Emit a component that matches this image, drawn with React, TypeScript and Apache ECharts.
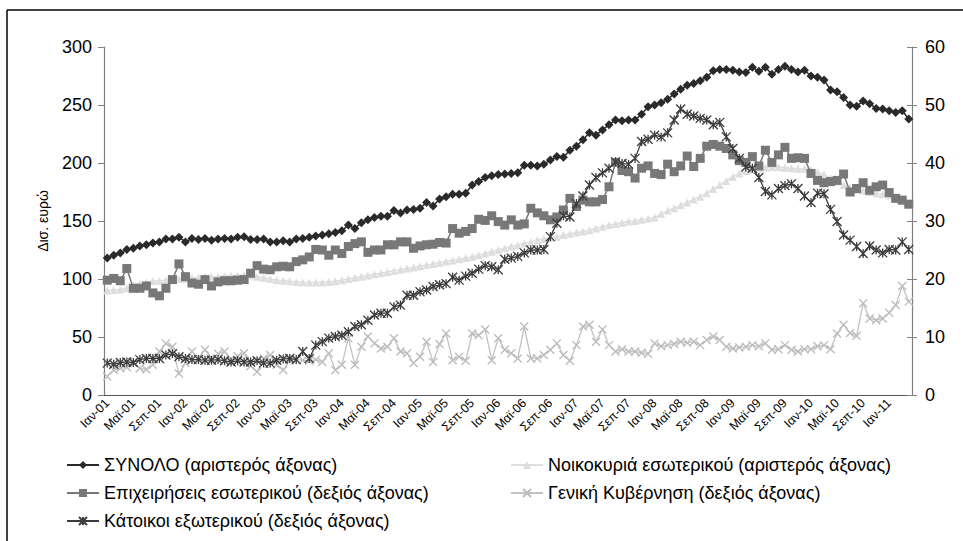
import React, { useEffect, useRef } from "react";
import * as echarts from "echarts";

const years = ["01", "02", "03", "04", "05", "06", "07", "08", "09", "10", "11"];
const monthNames = ["Ιαν", "Φεβ", "Μαρ", "Απρ", "Μαϊ", "Ιουν", "Ιουλ", "Αυγ", "Σεπ", "Οκτ", "Νοε", "Δεκ"];
const monthCount = 124; // Ιαν-01 ... Απρ-11

const seriesNames = [
  "ΣΥΝΟΛΟ (αριστερός άξονας)",
  "Νοικοκυριά εσωτερικού (αριστερός άξονας)",
  "Επιχειρήσεις εσωτερικού (δεξιός άξονας)",
  "Γενική Κυβέρνηση (δεξιός άξονας)",
  "Κάτοικοι εξωτερικού (δεξιός άξονας)",
];

// left axis, δισ. ευρώ
const total = [
  118, 120.5, 122.5, 125.5, 126.5, 128.5, 129.5, 131, 132, 134.5, 134.5, 136,
  132, 135, 134, 135, 133.5, 134.5, 135, 134.5, 136, 136.5, 134, 134,
  134.5, 132, 132, 133, 132, 134.5, 135, 136, 137, 138, 139, 140,
  141.5, 146.5, 143.5, 148.5, 151, 153, 154, 154, 159, 157, 159.5, 160,
  161, 166, 163, 169, 171, 173, 173, 174, 181, 184, 187.5, 189,
  190, 190.5, 191, 191.5, 198, 198, 197.5, 199, 202.5, 205.5, 205, 211,
  214.5, 220, 226, 224, 228.5, 233, 237, 236.5, 237, 237, 242, 248.5,
  250, 252, 255, 259.5, 263.5, 267, 268.5, 271, 274, 279.5, 280.5, 280.5,
  280, 278.5, 278, 282.5, 279, 282.5, 276.5, 280.5, 283.5, 280.5, 278.5, 280,
  275, 274, 271.5, 263, 261.5, 256.5, 250, 249, 253.5, 251, 247, 246.5,
  245, 243.5, 245, 238,
];

const households = [
  90, 90.5, 91, 92, 94, 96, 97, 98, 98.5, 99, 99.5, 100,
  100, 101, 101, 101.5, 102, 102, 102.5, 103, 103, 103.5, 103, 102,
  101, 100, 99, 98.5, 98, 97.5, 97, 97, 97, 97, 97.5, 98,
  99, 100, 101, 102, 103, 104, 105, 106, 107, 108, 109, 110,
  111, 112, 113, 114, 115, 116, 117, 118, 119, 120.5, 122, 123.5,
  125, 126.5, 128, 129, 130.5, 132, 133.5, 134.5, 135.5, 136.5, 138, 139,
  140, 141, 142, 143.5, 145, 146.5, 147.5, 148.5, 149.5, 150, 151, 152,
  153, 156, 159, 161, 163.5, 166, 168.5, 171, 174, 177.5, 181, 184.5,
  188, 191, 193, 194.5, 195.5, 196, 196.5, 196.5, 196, 195.5, 195, 195,
  194, 192, 190, 187, 184, 181, 179, 177, 176, 175, 174, 173,
  172, 170, 167, 164,
];

// right axis, δισ. ευρώ
const businesses = [
  19.8, 20.1, 19.7, 21.8, 18.4, 18.4, 18.8, 17.6, 17.1, 18.4, 19.9, 22.6,
  20.4, 19.3, 19.1, 19.9, 18.8, 19.5, 19.7, 19.7, 19.8, 19.9, 21.0, 22.3,
  21.7, 21.6, 22.1, 22.2, 22.1, 23.0, 23.3, 23.8, 25.1, 25.0, 24.1, 25.0,
  24.4, 25.6, 26.1, 26.4, 24.6, 25.0, 25.0, 25.9, 25.9, 26.4, 26.4, 25.3,
  25.7, 25.9, 26.0, 26.3, 26.2, 28.7, 27.9, 28.2, 28.7, 30.3, 30.1, 30.9,
  29.9, 29.3, 30.2, 29.3, 29.5, 32.2, 31.4, 30.9, 30.2, 30.7, 31.9, 33.9,
  32.5, 33.6, 33.3, 33.3, 33.7, 35.9, 40.1, 38.7, 38.5, 37.4, 39.1, 39.5,
  38.2, 38.0, 39.8, 38.5, 39.5, 41.2, 39.4, 40.8, 42.9, 43.2, 42.9, 42.5,
  41.4, 40.4, 40.1, 41.1, 39.5, 42.2, 40.1, 41.4, 42.7, 40.8, 40.9, 40.8,
  38.2, 37.0, 36.6, 36.8, 37.0, 38.1, 35.0, 35.6, 36.6, 35.3, 35.9, 36.2,
  34.9, 33.9, 33.6, 32.9,
];

const government = [
  3.2, 4.3, 4.6, 4.8, 5.6, 4.6, 4.4, 5.2, 7.5, 8.9, 8.3, 3.7,
  5.5, 7.5, 6.3, 7.8, 6.3, 7.1, 7.5, 6.0, 6.7, 7.2, 5.0, 4.0,
  6.3, 6.9, 5.2, 4.3, 6.0, 6.1, 6.0, 5.9, 6.1, 5.7, 7.2, 4.3,
  5.2, 9.8, 5.2, 8.3, 10.1, 8.9, 8.0, 8.3, 9.8, 7.5, 7.2, 5.5,
  6.6, 9.2, 5.7, 8.8, 10.6, 6.0, 6.6, 5.9, 10.6, 10.3, 11.3, 6.0,
  9.8, 7.8, 7.2, 6.3, 11.8, 6.3, 6.3, 6.9, 7.8, 8.9, 6.9, 5.9,
  8.6, 11.8, 12.1, 9.2, 11.3, 8.6, 7.5, 7.9, 7.5, 7.5, 7.3, 7.1,
  8.9, 8.4, 8.6, 8.8, 9.2, 9.0, 9.2, 8.6, 9.5, 10.1, 9.5, 8.3,
  8.0, 8.2, 8.3, 8.6, 8.4, 8.9, 7.8, 7.9, 8.6, 7.8, 7.5, 7.9,
  7.9, 8.4, 8.6, 7.9, 10.6, 12.1, 10.7, 10.2, 15.8, 13.2, 12.9, 13.2,
  14.2, 15.5, 18.8, 16.1,
];

const nonResidents = [
  5.5, 5.3, 5.6, 5.7, 5.6, 6.1, 6.3, 6.3, 6.3, 6.9, 7.1, 6.6,
  6.3, 6.1, 6.1, 6.0, 6.0, 6.1, 5.9, 5.7, 5.9, 5.7, 5.7, 5.9,
  5.5, 5.5, 6.0, 6.2, 6.3, 6.1, 7.5, 6.3, 8.6, 9.2, 9.8, 10.1,
  10.3, 10.9, 11.8, 12.1, 12.9, 13.8, 14.1, 14.1, 15.2, 15.5, 17.2, 17.2,
  17.8, 18.1, 18.7, 19.0, 19.2, 20.3, 19.8, 20.5, 21.0, 21.7, 22.3, 22.1,
  21.6, 23.4, 23.6, 23.9, 24.5, 25.0, 25.0, 25.1, 27.3, 29.6, 30.9, 30.7,
  33.0, 34.3, 36.2, 37.5, 38.3, 39.1, 40.2, 39.9, 39.8, 40.8, 43.7, 44.1,
  44.8, 44.5, 45.2, 47.4, 49.3, 48.4, 48.1, 47.7, 47.4, 46.6, 47.0, 44.5,
  42.5, 40.8, 39.3, 39.1, 37.5, 35.1, 34.5, 35.6, 36.1, 36.4, 35.6, 34.3,
  33.2, 34.8, 34.7, 32.0, 29.9, 27.6, 26.7, 25.6, 24.4, 25.7, 25.0, 24.5,
  25.1, 25.0, 26.4, 25.1,
];

const categories: string[] = [];
for (let i = 0; i < monthCount; i++) {
  categories.push(monthNames[i % 12] + "-" + years[Math.floor(i / 12)]);
}

const FONT = "'Liberation Sans', Arial, sans-serif";
const X_PATH = "path://M0,0L10,10M10,0L0,10";
const STAR_PATH = "path://M0,0L10,10M10,0L0,10M5,0L5,10";

const legendSlots = [
  { name: seriesNames[0], left: 66, top: 455 },
  { name: seriesNames[2], left: 66, top: 483 },
  { name: seriesNames[4], left: 66, top: 511 },
  { name: seriesNames[1], left: 510, top: 455 },
  { name: seriesNames[3], left: 510, top: 483 },
];

export default function App() {
  const ref = useRef<HTMLDivElement>(null);
  useEffect(() => {
    document.body.style.margin = "0";
    if (!ref.current) return;
    const chart = echarts.init(ref.current, undefined, { renderer: "svg" });
    const legendText = { fontFamily: FONT, fontSize: 18, color: "#000", lineHeight: 20 };
    chart.setOption({
      animation: false,
      backgroundColor: "#fff",
      textStyle: { fontFamily: FONT },
      grid: { left: 104, right: 51, top: 47, bottom: 146, containLabel: false },
      graphic: [
        { type: "line", shape: { x1: 7, y1: 10, x2: 963, y2: 10 }, style: { stroke: "#000", lineWidth: 1.5 } },
        { type: "line", shape: { x1: 7, y1: 10, x2: 7, y2: 541 }, style: { stroke: "#000", lineWidth: 1.5 } },
      ],
      legend: legendSlots.map((s) => ({
        left: s.left,
        top: s.top,
        itemWidth: 32,
        itemHeight: 10,
        itemGap: 4,
        padding: 0,
        textStyle: legendText,
        data: [s.name],
      })),
      xAxis: {
        type: "category",
        data: categories,
        boundaryGap: true,
        axisLine: { lineStyle: { color: "#555", width: 1.2 } },
        axisTick: { interval: 3, length: 5, lineStyle: { color: "#555" } },
        axisLabel: {
          interval: 3,
          rotate: 45,
          fontSize: 12.5,
          color: "#000",
          margin: 6,
          fontFamily: FONT,
        },
        splitLine: { show: false },
      },
      yAxis: [
        {
          type: "value",
          position: "left",
          min: 0,
          max: 300,
          interval: 50,
          name: "Δισ. ευρώ",
          nameLocation: "middle",
          nameGap: 54,
          nameTextStyle: { fontSize: 14, color: "#000", fontFamily: FONT },
          axisLine: { show: true, lineStyle: { color: "#808080", width: 1.2 } },
          axisTick: { show: true, length: 6, lineStyle: { color: "#808080" } },
          axisLabel: { fontSize: 18, color: "#000", margin: 12, fontFamily: FONT },
          splitLine: { show: false },
        },
        {
          type: "value",
          position: "right",
          min: 0,
          max: 60,
          interval: 10,
          axisLine: { show: true, lineStyle: { color: "#808080", width: 1.2 } },
          axisTick: { show: true, length: 5, lineStyle: { color: "#808080" } },
          axisLabel: { fontSize: 18, color: "#000", margin: 13, fontFamily: FONT },
          splitLine: { show: false },
        },
        {
          type: "value",
          position: "right",
          min: 0,
          max: 60,
          interval: 10,
          axisLine: { show: false },
          axisTick: { show: true, inside: true, length: 5, lineStyle: { color: "#808080" } },
          axisLabel: { show: false },
          splitLine: { show: false },
        },
      ],
      series: [
        {
          name: seriesNames[0],
          type: "line",
          yAxisIndex: 0,
          data: total,
          symbol: "diamond",
          symbolSize: 9,
          showAllSymbol: true,
          lineStyle: { color: "#2a2a2a", width: 1.5 },
          itemStyle: { color: "#2a2a2a" },
          z: 2,
        },
        {
          name: seriesNames[1],
          type: "line",
          yAxisIndex: 0,
          data: households,
          symbol: "triangle",
          symbolSize: 8,
          showAllSymbol: true,
          lineStyle: { color: "#dedede", width: 1.5 },
          itemStyle: { color: "#dedede" },
          z: 2,
        },
        {
          name: seriesNames[2],
          type: "line",
          yAxisIndex: 1,
          data: businesses,
          symbol: "rect",
          symbolSize: 9,
          showAllSymbol: true,
          lineStyle: { color: "#787878", width: 1.5 },
          itemStyle: { color: "#787878" },
          z: 3,
        },
        {
          name: seriesNames[3],
          type: "line",
          yAxisIndex: 1,
          data: government,
          symbol: X_PATH,
          symbolSize: 8,
          symbolKeepAspect: true,
          showAllSymbol: true,
          lineStyle: { color: "#c2c2c2", width: 1.3 },
          itemStyle: { color: "#c2c2c2", borderColor: "#bdbdbd", borderWidth: 1.4 },
          z: 3,
        },
        {
          name: seriesNames[4],
          type: "line",
          yAxisIndex: 1,
          data: nonResidents,
          symbol: STAR_PATH,
          symbolSize: 9,
          symbolKeepAspect: true,
          showAllSymbol: true,
          lineStyle: { color: "#3c3c3c", width: 1.3 },
          itemStyle: { color: "#3c3c3c", borderColor: "#3c3c3c", borderWidth: 1.3 },
          z: 4,
        },
      ],
    });
    return () => chart.dispose();
  }, []);
  return <div ref={ref} style={{ width: 963, height: 541 }} />;
}
